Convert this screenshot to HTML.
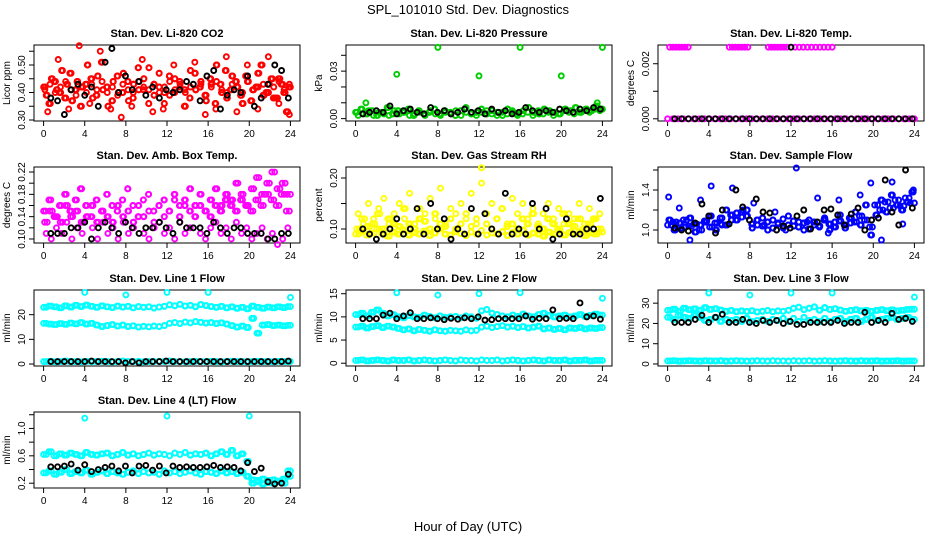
<!DOCTYPE html>
<html><head><meta charset="utf-8">
<style>
body{margin:0;background:#fff;}
svg{display:block;font-family:"Liberation Sans",sans-serif;}
</style></head>
<body>
<svg id="c" width="936" height="540" viewBox="0 0 936 540">
<text x="468" y="14" text-anchor="middle" font-size="13">SPL_101010  Std. Dev. Diagnostics</text>
<text x="468" y="531" text-anchor="middle" font-size="13">Hour of Day (UTC)</text>
</svg>
<script>
// ---- data arrays ----
const xTicks = [0,4,8,12,16,20,24];
const co2Red1 = [0.42,0.36,0.44,0.40,0.38,0.47,0.41,0.35,0.43,0.45,0.39,0.51,0.42,0.37,0.46,0.40,0.44,0.38,0.49,0.41,0.36,0.43,0.47,0.40,0.39,0.45,0.42,0.35,0.48,0.41,0.44,0.37,0.43,0.50,0.40,0.38,0.46,0.42,0.36,0.44,0.41,0.47,0.39,0.43,0.38,0.45,0.40,0.42];
const co2Red2 = [0.39,0.45,0.41,0.48,0.43,0.37,0.44,0.42,0.50,0.38,0.46,0.41,0.35,0.44,0.40,0.47,0.37,0.43,0.41,0.45,0.49,0.39,0.42,0.36,0.46,0.40,0.44,0.41,0.38,0.47,0.42,0.39,0.45,0.36,0.43,0.48,0.41,0.44,0.39,0.46,0.37,0.42,0.50,0.40,0.45,0.38,0.43,0.33];
const co2Red3 = [0.33,0.52,0.34,0.57,0.36,0.55,0.34,0.31,0.35,0.52,0.33,0.34,0.50,0.35,0.51,0.32,0.34,0.53,0.33,0.50,0.34,0.53,0.36,0.32];
const co2Red4 = [0.41,0.43,0.40,0.42,0.44,0.41,0.39,0.42,0.40,0.43,0.41,0.44,0.40,0.42,0.39,0.43,0.41,0.40,0.44,0.42,0.41,0.43,0.40,0.42,0.44,0.41,0.43,0.40,0.42,0.41,0.43,0.39,0.42,0.44,0.41,0.40,0.43,0.42,0.40,0.44,0.41,0.42,0.43,0.40,0.42,0.44,0.41,0.43];
const co2Black = [0.38,0.37,0.32,0.41,0.43,0.39,0.42,0.35,0.51,0.56,0.40,0.46,0.41,0.44,0.39,0.42,0.38,0.41,0.40,0.41,0.44,0.43,0.37,0.46,0.48,0.34,0.39,0.41,0.40,0.46,0.35,0.38,0.43,0.50,0.48,0.38];
const presGreen1 = [0.004,0.006,0.003,0.005,0.002,0.004,0.007,0.003,0.005,0.004,0.006,0.002,0.005,0.003,0.004,0.006,0.003,0.005,0.004,0.002,0.005,0.007,0.003,0.004,0.006,0.003,0.005,0.004,0.002,0.006,0.004,0.003,0.005,0.007,0.004,0.003,0.006,0.005,0.004,0.003,0.006,0.005,0.007,0.004,0.006,0.005,0.008,0.006];
const presGreen2 = [0.002,0.003,0.005,0.002,0.004,0.003,0.002,0.005,0.003,0.004,0.002,0.003,0.004,0.002,0.005,0.003,0.002,0.004,0.003,0.005,0.002,0.004,0.003,0.002,0.004,0.005,0.003,0.002,0.004,0.003,0.005,0.002,0.003,0.004,0.002,0.005,0.003,0.004,0.002,0.003,0.005,0.004,0.003,0.004,0.005,0.004,0.006,0.005];
const presOutHours = [1,4,8,12,16,20,23.5,24];
const presOutVals = [0.010,0.028,0.045,0.027,0.045,0.027,0.010,0.045];
const presBlack = [0.003,0.004,0.005,0.004,0.008,0.003,0.005,0.006,0.004,0.003,0.007,0.004,0.005,0.003,0.004,0.006,0.004,0.005,0.003,0.006,0.004,0.005,0.003,0.004,0.007,0.005,0.004,0.005,0.004,0.006,0.005,0.004,0.006,0.005,0.007,0.006];
const tempZero = [0,0,0,0,0,0,0,0,0,0,0,0,0,0,0,0,0,0,0,0,0,0,0,0,0,0,0,0,0,0,0,0,0,0,0,0,0,0,0,0,0,0,0,0,0,0,0,0];
const tempTopHours = [0.2,0.5,0.8,1.1,1.4,1.7,2.0,6.0,6.3,6.6,6.9,7.2,7.5,7.8,9.8,10.1,10.4,10.7,11.0,11.3,11.6,12.4,12.8,13.2,13.6,14.0,14.4,14.8,15.2,15.6,16.0];
const tempTopVals = [0.0026,0.0026,0.0026,0.0026,0.0026,0.0026,0.0026,0.0026,0.0026,0.0026,0.0026,0.0026,0.0026,0.0026,0.0026,0.0026,0.0026,0.0026,0.0026,0.0026,0.0026,0.0026,0.0026,0.0026,0.0026,0.0026,0.0026,0.0026,0.0026,0.0026,0.0026];
const tempBlack = [0,0,0,0,0,0,0,0,0,0,0,0,0,0,0,0,0,0,0,0,0,0,0,0,0,0,0,0,0,0,0,0,0,0,0,0];
const tempBlackTopHours = [12];
const tempBlackTopVals = [0.0026];
const boxMag1 = [0.15,0.17,0.14,0.16,0.18,0.15,0.17,0.19,0.16,0.14,0.17,0.15,0.18,0.16,0.15,0.17,0.19,0.16,0.14,0.17,0.18,0.15,0.16,0.17,0.15,0.18,0.16,0.17,0.19,0.16,0.18,0.15,0.17,0.19,0.16,0.18,0.17,0.20,0.18,0.16,0.19,0.21,0.18,0.20,0.22,0.19,0.20,0.18];
const boxMag2 = [0.11,0.10,0.12,0.11,0.13,0.10,0.12,0.11,0.14,0.12,0.10,0.13,0.11,0.12,0.10,0.13,0.11,0.12,0.14,0.11,0.10,0.12,0.13,0.11,0.12,0.10,0.13,0.11,0.12,0.14,0.11,0.10,0.12,0.13,0.11,0.12,0.10,0.13,0.11,0.12,0.10,0.11,0.12,0.10,0.11,0.09,0.10,0.12];
const boxMag3 = [0.13,0.15,0.14,0.13,0.16,0.14,0.15,0.13,0.14,0.16,0.13,0.15,0.14,0.13,0.16,0.14,0.15,0.13,0.16,0.14,0.15,0.13,0.16,0.14,0.15,0.17,0.14,0.16,0.15,0.14,0.16,0.15,0.14,0.16,0.15,0.17,0.16,0.15,0.17,0.16,0.15,0.17,0.16,0.18,0.17,0.16,0.18,0.15];
const boxBlack = [0.11,0.11,0.11,0.12,0.12,0.13,0.10,0.12,0.13,0.12,0.11,0.13,0.12,0.11,0.12,0.12,0.13,0.12,0.11,0.13,0.12,0.12,0.12,0.11,0.13,0.12,0.11,0.12,0.12,0.11,0.11,0.11,0.10,0.10,0.11,0.11];
const rhYel1 = [0.09,0.095,0.088,0.092,0.10,0.09,0.086,0.094,0.09,0.098,0.088,0.093,0.09,0.096,0.087,0.092,0.1,0.09,0.088,0.095,0.091,0.087,0.094,0.09,0.097,0.088,0.092,0.09,0.095,0.087,0.093,0.09,0.098,0.088,0.092,0.09,0.086,0.094,0.09,0.096,0.088,0.093,0.09,0.095,0.087,0.092,0.09,0.094];
const rhYel2 = [0.13,0.11,0.15,0.12,0.14,0.16,0.11,0.13,0.15,0.12,0.17,0.11,0.14,0.13,0.16,0.12,0.18,0.11,0.14,0.13,0.15,0.12,0.17,0.11,0.19,0.13,0.15,0.12,0.14,0.11,0.16,0.13,0.15,0.12,0.14,0.11,0.13,0.15,0.12,0.14,0.11,0.13,0.12,0.15,0.11,0.14,0.12,0.13];
const rhYel3 = [0.10,0.12,0.105,0.11,0.13,0.10,0.12,0.11,0.105,0.14,0.11,0.10,0.12,0.115,0.10,0.13,0.11,0.105,0.12,0.10,0.11,0.13,0.105,0.12,0.22,0.11,0.10,0.12,0.14,0.105,0.11,0.10,0.12,0.11,0.13,0.105,0.10,0.12,0.11,0.10,0.13,0.11,0.105,0.12,0.10,0.11,0.12,0.10];
const rhBlack = [0.10,0.09,0.08,0.09,0.10,0.12,0.09,0.10,0.14,0.09,0.15,0.10,0.12,0.08,0.10,0.09,0.14,0.09,0.13,0.10,0.09,0.17,0.09,0.10,0.09,0.15,0.10,0.14,0.08,0.09,0.12,0.09,0.09,0.10,0.10,0.16];
const flowBlue1 = [1.05,1.08,1.02,1.10,1.04,1.06,1.00,1.09,1.03,1.07,1.12,1.05,1.15,1.10,1.18,1.14,1.06,1.10,1.04,1.08,1.02,1.07,1.11,1.05,1.09,1.03,1.07,1.01,1.08,1.04,1.10,1.06,1.03,1.09,1.05,1.12,1.08,1.14,1.10,1.03,1.25,1.20,1.28,1.22,1.30,1.24,1.32,1.27];
const flowBlue2 = [1.10,1.00,1.07,1.03,1.12,0.98,1.05,1.08,1.14,1.00,1.06,1.20,1.10,1.17,1.13,1.20,1.02,1.05,1.12,1.00,1.10,1.06,1.02,1.14,1.04,1.08,1.00,1.10,1.05,1.03,1.12,1.00,1.08,1.15,1.02,1.07,1.18,1.05,1.25,0.95,1.15,1.30,1.18,1.35,1.25,1.20,1.28,1.38];
const flowBlue3 = [1.33,1.22,0.90,1.30,1.44,1.05,1.42,1.20,1.27,1.05,1.18,1.00,1.62,1.08,1.32,0.97,1.30,1.12,1.35,1.47,0.90,1.48,1.06,1.40];
const flowBlack = [1.02,1.00,0.99,1.07,1.26,1.14,0.97,1.20,1.06,1.40,1.23,1.10,1.31,1.18,1.17,1.00,1.04,1.02,1.14,1.20,1.01,1.08,1.20,1.21,1.15,1.05,1.16,1.22,1.00,1.10,1.12,1.50,1.18,1.05,1.60,1.22];
const l1Upper = [23,23.5,23.2,22.8,23.6,23.1,23.8,23.3,23.9,23.4,23.0,23.6,23.2,22.9,23.5,23.1,23.4,22.8,23.3,23.0,23.2,22.7,23.1,23.4,24.0,23.6,24.2,23.5,23.8,23.2,24.1,23.7,23.3,23.0,23.4,22.8,23.2,22.6,23.0,22.4,23.5,23.0,22.6,23.1,22.8,23.2,22.9,23.3];
const l1Mid = [16.5,16.2,16.0,16.4,16.1,16.6,16.3,16.8,16.2,16.5,15.8,15.2,15.6,16.0,15.4,15.8,15.2,15.5,15.0,15.3,15.1,15.4,15.2,15.6,16.5,16.8,16.4,17.0,16.7,17.2,16.9,16.6,16.8,16.4,16.7,16.2,15.6,15.0,15.4,14.8,18.5,12.5,15.8,16.0,15.6,15.8,15.5,15.7];
const l1Low = [1,1.1,0.9,1,1.2,1,1,0.9,1.1,1,1,1.1,1,0.9,1,1.2,1,1,1.1,0.9,1,1,1.1,1,1.2,1,1,0.9,1,1.1,1,1,1.1,1,0.9,1,1.1,1,1,0.9,1,1.1,1,1,0.9,1.1,1,1];
const l1OutHours = [4,8,12,16,24];
const l1OutVals = [29,28,29,29,27];
const l1Black = [1,1,1,1,1,1,1.2,1,1,1,1,0.5,1,0.5,1,1,1,1.2,1,1,1,1,1,1,1,1,1,1,1,1,1,1,1,1,1,1.2];
const l2Upper = [10.5,10.8,10.2,11.0,11.5,10.8,10.2,10.5,10.0,9.8,10.3,10.0,9.9,10.4,10.1,9.8,10.2,9.9,10.0,10.1,9.8,10.2,10.0,9.7,11.3,11.6,10.8,10.5,10.2,10.0,10.4,10.1,10.6,10.2,10.0,10.5,10.8,10.3,10.0,10.2,10.4,10.0,10.2,10.5,10.1,10.3,10.6,10.4];
const l2Mid = [7.8,8.0,7.6,7.9,8.1,7.7,8.0,7.8,7.5,7.2,7.4,7.0,7.3,7.1,6.9,7.2,7.0,6.9,7.1,7.0,6.9,7.2,7.0,7.1,7.8,8.0,7.7,7.9,8.1,7.8,8.0,7.7,7.9,7.6,7.8,8.0,7.4,7.6,7.3,7.5,7.2,7.6,7.5,7.7,7.4,7.6,7.5,7.7];
const l2Low = [0.6,0.7,0.5,0.6,0.7,0.6,0.5,0.7,0.6,0.6,0.7,0.5,0.6,0.7,0.6,0.5,0.6,0.7,0.6,0.5,0.7,0.6,0.6,0.5,0.7,0.6,0.6,0.7,0.5,0.6,0.7,0.6,0.5,0.6,0.7,0.6,0.5,0.7,0.6,0.6,0.7,0.5,0.6,0.6,0.7,0.5,0.6,0.6];
const l2OutHours = [4,8,12,16,24];
const l2OutVals = [15.2,14.7,15.0,15.2,14.0];
const l2Black = [9.6,9.6,9.6,10.4,10.8,9.6,10.2,10.9,9.6,9.6,9.8,9.6,9.4,9.7,9.5,9.8,9.6,10.0,9.3,9.4,9.6,9.6,9.6,9.6,10.2,9.5,9.7,9.6,11.5,9.6,9.7,9.6,13.0,10.0,10.2,9.5];
const l3Upper = [26.5,27,26,27.5,26.8,27.2,26.5,27.8,26.9,27.3,26.6,26.0,26.4,25.8,26.2,25.9,26.3,25.7,26.0,26.4,25.8,26.2,26.0,26.5,27.5,28,26.8,27.5,28.2,26.5,27.8,26.9,27.3,26.6,26.0,26.4,26.8,26.2,26.5,26.0,26.4,26.8,26.3,26.7,26.2,26.5,26.9,27.0];
const l3Mid = [23,22,24,23,22.5,24,23,21.5,22,23,21,22,21.5,22,21,22.5,21,21.5,22,21,22,21.5,22.5,21,22.5,21,23,21.5,22,21,22.5,21,22,22.5,21,22,22.5,21,22,23,21.5,22,22.5,23,22,22.5,23,22];
const l3Low = [1.5,1.6,1.4,1.5,1.6,1.5,1.4,1.6,1.5,1.5,1.6,1.4,1.5,1.6,1.5,1.4,1.5,1.6,1.5,1.4,1.6,1.5,1.5,1.4,1.6,1.5,1.5,1.6,1.4,1.5,1.6,1.5,1.4,1.5,1.6,1.5,1.4,1.6,1.5,1.5,1.6,1.4,1.5,1.5,1.6,1.4,1.5,1.5];
const l3OutHours = [4,8,12,16,24];
const l3OutVals = [35,34,35,35,33];
const l3Black = [20.5,20.5,20.5,22,24,20.5,23,24.5,20.5,20.5,22,20.5,20,21.5,20.5,21.5,20,21,19.5,19.5,20.5,20.5,20.5,20.5,21.5,20,20.5,20.5,25.5,20.5,21.5,20.5,25,22,22.5,21];
const l4Upper = [0.62,0.66,0.60,0.63,0.61,0.64,0.62,0.60,0.65,0.62,0.61,0.63,0.64,0.60,0.62,0.65,0.61,0.63,0.60,0.62,0.64,0.61,0.63,0.62,0.60,0.64,0.62,0.65,0.61,0.63,0.62,0.64,0.60,0.63,0.66,0.62,0.68,0.60,0.63,0.52,0.25,0.24,0.26,0.24,0.25,0.23,0.26,0.38];
const l4Lower = [0.35,0.38,0.33,0.36,0.40,0.34,0.37,0.35,0.39,0.33,0.36,0.38,0.34,0.37,0.35,0.33,0.36,0.38,0.34,0.37,0.35,0.36,0.33,0.38,0.35,0.37,0.34,0.36,0.38,0.35,0.33,0.37,0.36,0.34,0.38,0.35,0.37,0.34,0.36,0.30,0.20,0.22,0.19,0.21,0.20,0.22,0.20,0.30];
const l4OutHours = [4,12,20];
const l4OutVals = [1.15,1.18,1.18];
const l4Black = [0.44,0.44,0.45,0.48,0.39,0.47,0.37,0.40,0.43,0.45,0.38,0.45,0.35,0.45,0.46,0.39,0.45,0.35,0.45,0.43,0.44,0.43,0.43,0.44,0.46,0.43,0.44,0.43,0.38,0.50,0.37,0.42,0.22,0.19,0.20,0.33];

// ---- layout & drawing ----
const svg = document.getElementById('c');
const NS = 'http://www.w3.org/2000/svg';
function mk(tag, attrs, parent){const e=document.createElementNS(NS,tag);for(const k in attrs)e.setAttribute(k,attrs[k]);(parent||svg).appendChild(e);return e;}
const colX = [34,346,658], rowY = [45,167,290,412], W = 266, H = 76;

function makePanel(col,row,title,ylab,ymin,ymax,yticks,ylabels,showXLabels){
  const L=colX[col], T=rowY[row];
  const g = mk('g',{});
  
  
  const sx = h => L + 9.6 + (h/24)*(W-19.2);
  const sy = v => T + H - (v-ymin)/(ymax-ymin)*H;
  const t = mk('text',{x:L+W/2,y:T-8,'text-anchor':'middle','font-size':'11','font-weight':'bold'},g);
  t.textContent = title;
  
  
  const box = mk('rect',{x:L,y:T,width:W,height:H,fill:'none',stroke:'#000','stroke-width':1},g);
  
  
  const xa = mk('g',{},g);
  
  
  mk('line',{x1:sx(xTicks[0]),x2:sx(xTicks[xTicks.length-1]),y1:T+H,y2:T+H,stroke:'#000'},xa);
  xTicks.forEach(h=>{
    mk('line',{x1:sx(h),x2:sx(h),y1:T+H,y2:T+H+5,stroke:'#000'},xa);
    if(showXLabels){const tx=mk('text',{x:sx(h),y:T+H+16,'text-anchor':'middle','font-size':'10'},xa);tx.textContent=h;}
  });
  const ya = mk('g',{},g);
  
  
  mk('line',{x1:L,x2:L,y1:sy(yticks[0]),y2:sy(yticks[yticks.length-1]),stroke:'#000'},ya);
  yticks.forEach(v=>{mk('line',{x1:L-5,x2:L,y1:sy(v),y2:sy(v),stroke:'#000'},ya);});
  ylabels.forEach(v=>{const y=sy(v);const tx=mk('text',{x:L-9,y:y,'text-anchor':'middle','font-size':'10',transform:`rotate(-90 ${L-9} ${y})`},ya);tx.textContent=v;});
  const yl = mk('text',{x:L-24,y:T+H/2,'text-anchor':'middle','font-size':'10',transform:`rotate(-90 ${L-24} ${T+H/2})`},ya);
  yl.textContent = ylab;
  
  
  return {g,sx,sy};
}
function series(p,vals,color,h0,h1,name){
  const sg = mk('g',{fill:'none',stroke:color,'stroke-width':1.9},p.g);
  
  
  const n=vals.length;
  vals.forEach((v,i)=>{const h=h0+(n>1?i*(h1-h0)/(n-1):0);mk('circle',{cx:p.sx(h),cy:p.sy(v),r:2.5},sg);});
}
function seriesXY(p,hours,vals,color,name){
  const sg = mk('g',{fill:'none',stroke:color,'stroke-width':1.9},p.g);
  
  
  vals.forEach((v,i)=>{mk('circle',{cx:p.sx(hours[i]),cy:p.sy(v),r:2.5},sg);});
}
const RED='#ff0000',GRN='#00cc00',MAG='#ff00ff',YEL='#ffff00',BLU='#0000ff',CYN='#00ffff',BLK='#000';

let p;
p = makePanel(0,0,'Stan. Dev. Li-820 CO2','Licor ppm',0.2964,0.5727,[0.30,0.35,0.40,0.45,0.50,0.55],['0.30','0.40','0.50'],true);
series(p,co2Red1,RED,0,24,'co2-series-a');series(p,co2Red2,RED,0.25,23.75,'co2-series-b');series(p,co2Red3,RED,0.4,23.9,'co2-series-c');series(p,co2Red4,RED,0.12,23.9,'co2-series-d');series(p,co2Red2,RED,0.35,23.6,'co2-series-e');series(p,co2Red1,RED,0.15,23.85,'co2-series-f');series(p,co2Black,BLK,0.7,23.8,'co2-black');
p = makePanel(1,0,'Stan. Dev. Li-820 Pressure','kPa',-0.0015,0.0465,[0,0.01,0.02,0.03,0.04],['0.00','0.03'],true);
series(p,presGreen1,GRN,0,24,'pressure-series-a');series(p,presGreen2,GRN,0.25,23.75,'pressure-series-b');series(p,presGreen1,GRN,0.12,23.88,'pressure-series-c');seriesXY(p,presOutHours,presOutVals,GRN,'pressure-outliers');series(p,presBlack,BLK,0.7,23.8,'pressure-black');
p = makePanel(2,0,'Stan. Dev. Li-820 Temp.','degrees C',-0.00008,0.00268,[0,0.001,0.002],['0.000','0.002'],true);
series(p,tempZero,MAG,0,24,'temp-zero');seriesXY(p,tempTopHours,tempTopVals,MAG,'temp-top');series(p,tempBlack,BLK,0.7,23.8,'temp-black');seriesXY(p,tempBlackTopHours,tempBlackTopVals,BLK,'temp-black-top');
p = makePanel(0,1,'Stan. Dev. Amb. Box Temp.','degrees C',0.0928,0.229,[0.10,0.12,0.14,0.16,0.18,0.20,0.22],['0.10','0.14','0.18','0.22'],true);
series(p,boxMag1,MAG,0,24,'box-series-a');series(p,boxMag2,MAG,0.25,23.75,'box-series-b');series(p,boxMag3,MAG,0.1,23.9,'box-series-c');series(p,boxMag3,MAG,0.35,23.6,'box-series-d');series(p,boxMag1,MAG,0.2,23.7,'box-series-e');series(p,boxBlack,BLK,0.7,23.8,'box-black');
p = makePanel(1,1,'Stan. Dev. Gas Stream RH','percent',0.0725,0.2216,[0.10,0.15,0.20],['0.10','0.20'],true);
series(p,rhYel1,YEL,0,24,'rh-series-a');series(p,rhYel2,YEL,0.25,23.75,'rh-series-b');series(p,rhYel3,YEL,0.1,23.9,'rh-series-c');series(p,rhYel1,YEL,0.3,23.7,'rh-series-d');series(p,rhYel3,YEL,0.38,23.6,'rh-series-e');series(p,rhBlack,BLK,0.7,23.8,'rh-black');
p = makePanel(2,1,'Stan. Dev. Sample Flow','ml/min',0.87,1.63,[1.0,1.2,1.4,1.6],['1.0','1.4'],true);
series(p,flowBlue1,BLU,0,24,'flow-series-a');series(p,flowBlue2,BLU,0.25,23.75,'flow-series-b');series(p,flowBlue3,BLU,0.1,23.9,'flow-series-c');series(p,flowBlue1,BLU,0.35,23.6,'flow-series-d');series(p,flowBlue2,BLU,0.12,23.88,'flow-series-e');series(p,flowBlack,BLK,0.7,23.8,'flow-black');
p = makePanel(0,2,'Stan. Dev. Line 1 Flow','ml/min',-0.8,30,[0,10,20],['0','10','20'],true);
series(p,l1Upper,CYN,0,24,'line1-upper');series(p,l1Upper,CYN,0.25,23.75,'line1-upper-b');series(p,l1Mid,CYN,0,24,'line1-mid');series(p,l1Mid,CYN,0.25,23.75,'line1-mid-b');series(p,l1Low,CYN,0,24,'line1-low');series(p,l1Low,CYN,0.25,23.75,'line1-low-b');seriesXY(p,l1OutHours,l1OutVals,CYN,'line1-outliers');series(p,l1Black,BLK,0.7,23.8,'line1-black');
p = makePanel(1,2,'Stan. Dev. Line 2 Flow','ml/min',-0.6,15.8,[0,5,10,15],['0','5','10','15'],true);
series(p,l2Upper,CYN,0,24,'line2-upper');series(p,l2Upper,CYN,0.25,23.75,'line2-upper-b');series(p,l2Mid,CYN,0,24,'line2-mid');series(p,l2Mid,CYN,0.25,23.75,'line2-mid-b');series(p,l2Low,CYN,0,24,'line2-low');series(p,l2Low,CYN,0.25,23.75,'line2-low-b');seriesXY(p,l2OutHours,l2OutVals,CYN,'line2-outliers');series(p,l2Black,BLK,0.7,23.8,'line2-black');
p = makePanel(2,2,'Stan. Dev. Line 3 Flow','ml/min',-1,36.5,[0,10,20,30],['0','10','20','30'],true);
series(p,l3Upper,CYN,0,24,'line3-upper');series(p,l3Upper,CYN,0.25,23.75,'line3-upper-b');series(p,l3Mid,CYN,0,24,'line3-mid');series(p,l3Mid,CYN,0.25,23.75,'line3-mid-b');series(p,l3Low,CYN,0,24,'line3-low');series(p,l3Low,CYN,0.25,23.75,'line3-low-b');seriesXY(p,l3OutHours,l3OutVals,CYN,'line3-outliers');series(p,l3Black,BLK,0.7,23.8,'line3-black');
p = makePanel(0,3,'Stan. Dev. Line 4 (LT) Flow','ml/min',0.13,1.24,[0.2,0.4,0.6,0.8,1.0,1.2],['0.2','0.6','1.0'],true);
series(p,l4Upper,CYN,0,24,'line4-upper');series(p,l4Upper,CYN,0.25,23.75,'line4-upper-b');series(p,l4Lower,CYN,0,24,'line4-lower');series(p,l4Lower,CYN,0.25,23.75,'line4-lower-b');seriesXY(p,l4OutHours,l4OutVals,CYN,'line4-outliers');series(p,l4Black,BLK,0.7,23.8,'line4-black');
</script>
</body></html>
